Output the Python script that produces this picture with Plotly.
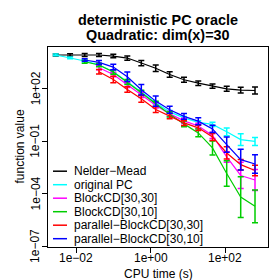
import math
import plotly.graph_objects as go

# CPU time (s) at which each series was evaluated
time_s = [0.0028, 0.0068, 0.0168, 0.0406, 0.0984, 0.234, 0.556, 1.355,
          3.21, 7.78, 18.8, 45.3, 109, 259, 627]

# function values (mean) and error half-widths (in decades)
nelder_mead = [8500, 8500, 8500, 8500, 7400, 5700, 2950, 1490, 660, 330,
               210, 143, 100, 84, 80]
nelder_mead_err = [0.06, 0.07, 0.08, 0.08, 0.1, 0.12, 0.15, 0.18, 0.16, 0.14,
                   0.13, 0.125, 0.14, 0.16, 0.2]

original_pc = [8500, 5900, 3850, 2360, 940, 250, 63, 15.8, 4.8, 2.2, 1.21,
               0.93, 0.35, 0.126, 0.099]
original_pc_err = [0.05, 0.05, 0.06, 0.06, 0.07, 0.08, 0.08, 0.08, 0.08, 0.08,
                   0.1, 0.12, 0.22, 0.34, 0.23]

# BlockCD[30,30] starts at the 4th time point
blockcd_30_30 = [1590, 660, 170, 45, 11.4, 3.7, 1.48, 0.76, 0.219, 0.0129,
                 0.00113, 0.00062]
blockcd_30_30_err = [0.11, 0.13, 0.15, 0.15, 0.15, 0.15, 0.15, 0.15, 0.18,
                     0.3, 0.75, 0.6]

# BlockCD[30,10] starts at the 3rd time point
blockcd_30_10 = [3510, 2270, 900, 242, 59, 13.9, 3.48, 0.995, 0.304, 0.0422,
                 0.00147, 6.6e-5, 1.95e-5]
blockcd_30_10_err = [0.08, 0.1, 0.12, 0.14, 0.15, 0.15, 0.15, 0.17, 0.22, 0.4,
                     0.73, 1.16, 0.93]

# parallel-BlockCD[30,30] starts at the 4th time point
par_blockcd_30_30 = [940, 340, 91, 26.8, 6.5, 2.74, 1.135, 0.59, 0.18,
                     0.0218, 0.00467, 0.00218]
par_blockcd_30_30_err = [0.13, 0.19, 0.16, 0.2, 0.17, 0.15, 0.15, 0.15, 0.2,
                         0.35, 0.3, 0.3]

# parallel-BlockCD[30,10] starts at the 3rd time point
par_blockcd_30_10 = [4390, 3200, 1740, 485, 88, 19.8, 6.3, 2.67, 1.42, 0.515,
                     0.065, 0.009, 0.0051]
par_blockcd_30_10_err = [0.07, 0.115, 0.16, 0.27, 0.30, 0.29, 0.2, 0.17, 0.2,
                         0.21, 0.43, 0.59, 0.53]

series_names = ["Nelder\u2212Mead", "original PC", "BlockCD[30,30]",
                "BlockCD[30,10]", "parallel\u2212BlockCD[30,30]",
                "parallel\u2212BlockCD[30,10]"]
series_colors = ["#000000", "#00FFFF", "#FF00FF", "#00CD00", "#FF0000", "#0000FF"]
series_start = [0, 0, 3, 2, 3, 2]
series_vals = [nelder_mead, original_pc, blockcd_30_30, blockcd_30_10,
               par_blockcd_30_30, par_blockcd_30_10]
series_errs = [nelder_mead_err, original_pc_err, blockcd_30_30_err,
               blockcd_30_10_err, par_blockcd_30_30_err, par_blockcd_30_10_err]

x_tickvals = [1e-2, 1e0, 1e2]
x_ticktext = ["1e\u221202", "1e+00", "1e+02"]
y_tickvals = [1e2, 1e-1, 1e-4, 1e-7]
y_ticktext = ["1e+02", "1e\u221201", "1e\u221204", "1e\u221207"]

FONT = "Liberation Sans, Arial, Helvetica, sans-serif"

fig = go.Figure()
for name, col, st, vals, errs in zip(series_names, series_colors, series_start,
                                     series_vals, series_errs):
    xs = time_s[st:st + len(vals)]
    up = [v * (10 ** e) - v for v, e in zip(vals, errs)]
    dn = [v - v / (10 ** e) for v, e in zip(vals, errs)]
    fig.add_trace(go.Scatter(
        x=xs, y=vals, mode="lines", name=name, showlegend=False,
        line=dict(color=col, width=1.2),
        error_y=dict(type="data", array=up, arrayminus=dn, symmetric=False,
                     color=col, thickness=1.5, width=3),
    ))

W, H = 280, 280
L, R, T, B = 40, 20, 39, 41
pw, ph = W - L - R, H - T - B


def px_x(px):
    return (px - L) / pw


def px_y(py):
    return (H - B - py) / ph


annotations = [
    dict(text="<b>deterministic PC oracle</b>", x=0.5, y=px_y(11.5),
         xref="paper", yref="paper", showarrow=False, xanchor="center",
         yanchor="middle", font=dict(size=14.4, color="black", family=FONT)),
    dict(text="<b>Quadratic: dim(x)=30</b>", x=0.5, y=px_y(27),
         xref="paper", yref="paper", showarrow=False, xanchor="center",
         yanchor="middle", font=dict(size=14.4, color="black", family=FONT)),
    dict(text="CPU time (s)", x=0.5, y=px_y(266), xref="paper", yref="paper",
         showarrow=False, xanchor="center", yanchor="middle",
         font=dict(size=12, color="black", family=FONT)),
    dict(text="function value", x=px_x(11.5), y=0.5, xref="paper", yref="paper",
         showarrow=False, xanchor="center", yanchor="middle", textangle=-90,
         font=dict(size=12, color="black", family=FONT)),
]

# x tick labels placed on the x axis scale (log axis -> log10 positions)
for tv, tt in zip(x_tickvals, x_ticktext):
    annotations.append(dict(text=tt, x=math.log10(tv), y=px_y(250),
                            xref="x", yref="paper", showarrow=False,
                            xanchor="center", yanchor="middle",
                            font=dict(size=12, color="black", family=FONT)))

# y tick labels placed on the y axis scale, rotated like R's default
for tv, tt in zip(y_tickvals, y_ticktext):
    annotations.append(dict(text=tt, x=px_x(27.5), y=math.log10(tv),
                            xref="paper", yref="y", showarrow=False,
                            xanchor="center", yanchor="middle", textangle=-90,
                            font=dict(size=12, color="black", family=FONT)))

shapes = []
leg_y0, leg_dy = 163.2, 13.5
for i, (name, col) in enumerate(zip(series_names, series_colors)):
    yy = px_y(leg_y0 + i * leg_dy)
    shapes.append(dict(type="line", xref="paper", yref="paper",
                       x0=px_x(45), x1=px_x(59), y0=yy, y1=yy,
                       line=dict(color=col, width=1.5)))
    annotations.append(dict(text=name, x=px_x(64), y=yy, xref="paper",
                            yref="paper", showarrow=False, xanchor="left",
                            yanchor="middle",
                            font=dict(size=12, color="black", family=FONT)))

axis_common = dict(type="log", showline=True, mirror=True, linecolor="black",
                   linewidth=1, ticks="outside", ticklen=5, tickcolor="black",
                   tickwidth=1, showgrid=False, zeroline=False,
                   showticklabels=False)

fig.update_layout(
    width=W, height=H, autosize=False,
    margin=dict(l=L, r=R, t=T, b=B, pad=0),
    plot_bgcolor="white", paper_bgcolor="white",
    showlegend=False,
    xaxis=dict(range=[-2.76, 3.146], tickvals=x_tickvals, **axis_common),
    yaxis=dict(range=[-7.03, 4.386], tickvals=y_tickvals, **axis_common),
    annotations=annotations, shapes=shapes,
)

fig.write_html("out.html")
